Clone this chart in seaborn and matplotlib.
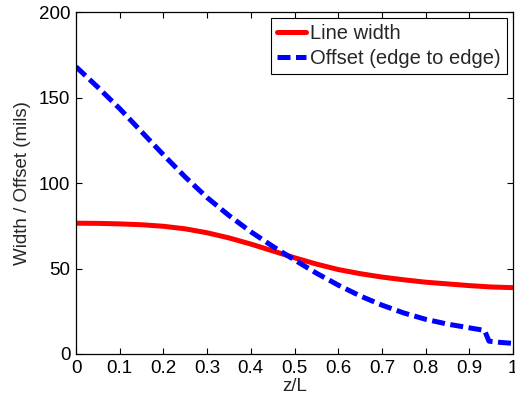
import numpy as np
import pandas as pd
import seaborn as sns
import matplotlib.pyplot as plt

# values
z_width = [0, 0.05, 0.1, 0.15, 0.2, 0.25, 0.3, 0.35, 0.4, 0.45, 0.5,
           0.55, 0.6, 0.65, 0.7, 0.75, 0.8, 0.85, 0.9, 0.95, 1.0]
line_width = [76.5, 76.4, 76.1, 75.6, 74.7, 73.2, 70.9, 67.9, 64.3, 60.3, 56.3,
              52.6, 49.4, 47.0, 45.0, 43.4, 42.0, 41.0, 40.0, 39.2, 38.8]

z_offset = [0, 0.05, 0.1, 0.15, 0.2, 0.25, 0.3, 0.35, 0.4, 0.45, 0.5,
            0.55, 0.6, 0.65, 0.7, 0.75, 0.8, 0.85, 0.9, 0.935, 0.945, 0.97, 1.0]
offset = [168, 156, 143.5, 130, 116.5, 103.5, 91.5, 81, 71.5, 63, 55,
          47.3, 40.3, 34, 28.6, 24, 20.3, 17.5, 15.3, 13.8, 7.5, 6.8, 6.2]

x_ticks = [0, 0.1, 0.2, 0.3, 0.4, 0.5, 0.6, 0.7, 0.8, 0.9, 1]
x_labels = ["0", "0.1", "0.2", "0.3", "0.4", "0.5", "0.6", "0.7", "0.8", "0.9", "1"]
y_ticks = [0, 50, 100, 150, 200]

sns.set_style("ticks")
plt.rcParams['font.family'] = ['Liberation Sans', 'DejaVu Sans']
plt.rcParams['xtick.direction'] = 'in'
plt.rcParams['ytick.direction'] = 'in'

dw = pd.DataFrame({"z": z_width, "val": line_width})
do = pd.DataFrame({"z": z_offset, "val": offset})

fig = plt.figure(figsize=(5.15, 3.99), dpi=100)
ax = fig.add_axes([0.1476, 0.1128, 0.8485, 0.857])

sns.lineplot(data=dw, x="z", y="val", ax=ax, color="#ff0000", lw=3.6,
             label="Line width", sort=False)
sns.lineplot(data=do, x="z", y="val", ax=ax, color="#0000ff", lw=3.6,
             label="Offset (edge to edge)", sort=False)
ax.lines[1].set_dashes([2.6, 1.1])

ax.set_xlim(0, 1)
ax.set_ylim(0, 200)
ax.set_xticks(x_ticks)
ax.set_xticklabels(x_labels)
ax.set_yticks(y_ticks)
ax.tick_params(top=True, right=True, labelsize=13.5, length=4, width=0.8, pad=4,
               colors="black")
for s in ax.spines.values():
    s.set_visible(True)
    s.set_color("black")
    s.set_linewidth(0.9)

ax.set_xlabel("z/L", fontsize=13.5, labelpad=1)
ax.set_ylabel("Width / Offset (mils)", fontsize=13.5, labelpad=6)

leg = ax.legend(loc="upper right", fontsize=14.5, handlelength=1.45,
                handletextpad=0.2, borderpad=0.3, labelspacing=0.3,
                borderaxespad=0.3, fancybox=False, framealpha=1)
leg.get_frame().set_edgecolor("black")
leg.get_frame().set_linewidth(0.8)

fig.savefig("out.png", dpi=100)
